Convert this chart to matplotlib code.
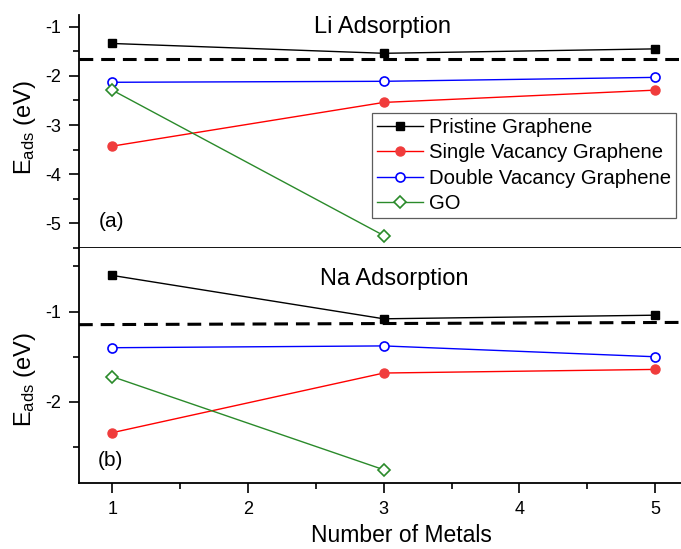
import matplotlib
matplotlib.use("Agg")
import matplotlib.pyplot as plt
from matplotlib.ticker import MultipleLocator

plt.rcParams['font.family'] = ['Liberation Sans', 'DejaVu Sans']
plt.rcParams['mathtext.fontset'] = 'custom'
plt.rcParams['mathtext.rm'] = 'Liberation Sans'
plt.rcParams['mathtext.it'] = 'Liberation Sans'

metals = [1, 3, 5]
labels = ["Pristine Graphene", "Single Vacancy Graphene",
          "Double Vacancy Graphene", "GO"]

# Li adsorption (a)
li_pristine = [-1.34, -1.54, -1.45]
li_single = [-3.43, -2.54, -2.29]
li_double = [-2.13, -2.11, -2.03]
li_go = [-2.29, -5.25]
li_ref = [-1.655, -1.655]

# Na adsorption (b)
na_pristine = [-0.60, -1.08, -1.04]
na_single = [-2.34, -1.68, -1.64]
na_double = [-1.40, -1.38, -1.50]
na_go = [-1.72, -2.75]
na_ref = [-1.145, -1.12]

xlim = (0.755, 5.19)

fig = plt.figure(figsize=(6.81, 5.49), dpi=100)
ax1 = fig.add_axes([0.116, 0.5477, 0.884, 0.425])
ax2 = fig.add_axes([0.116, 0.1197, 0.884, 0.428])

styles = [dict(color='black', marker='s', mfc='black', mec='black', ms=6),
          dict(color='red', marker='o', mfc='#f03c3c', mec='#f03c3c', ms=6.5),
          dict(color='blue', marker='o', mfc='white', mec='blue', ms=6.5, mew=1.2),
          dict(color='#2a8a2a', marker='D', mfc='white', mec='#2a8a2a', ms=6.5, mew=1.2)]


def panel(ax, series, ref, title, tpos, tag, tagpos, ylim, ylab_y):
    for ys, lab, st in zip(series, labels, styles):
        ax.plot(metals[:len(ys)], ys, lw=1.0, label=lab, **st)
    ax.plot(xlim, ref, color='black', lw=2.2, dashes=(4.5, 2.6))
    ax.set_xlim(*xlim)
    ax.set_ylim(*ylim)
    ax.spines['top'].set_visible(False)
    ax.spines['right'].set_visible(False)
    for s in ('left', 'bottom'):
        ax.spines[s].set_linewidth(1.3)
    ax.xaxis.set_major_locator(MultipleLocator(1))
    ax.xaxis.set_minor_locator(MultipleLocator(0.5))
    ax.yaxis.set_minor_locator(MultipleLocator(0.5))
    ax.tick_params(which='major', length=7, width=1.2, labelsize=13)
    ax.tick_params(which='minor', length=4, width=1.2)
    ax.tick_params(axis='y', pad=6)
    ax.tick_params(axis='x', pad=5.5)
    ax.set_ylabel(r'E$_{\mathrm{ads}}$ (eV)', fontsize=17)
    ax.yaxis.set_label_coords(-0.068, ylab_y)
    ax.text(tpos[0], tpos[1], title, fontsize=17, ha='center', va='center',
            transform=ax.transAxes)
    ax.text(tagpos[0], tagpos[1], tag, fontsize=15,
            ha='center', va='center', transform=ax.transAxes)


panel(ax1, [li_pristine, li_single, li_double, li_go], li_ref,
      'Li Adsorption', (0.504, 0.949), '(a)', (0.054, 0.114),
      (-5.51, -0.76), 0.518)
panel(ax2, [na_pristine, na_single, na_double, na_go], na_ref,
      'Na Adsorption', (0.523, 0.868), '(b)', (0.053, 0.095),
      (-2.90, -0.30), 0.44)

ax1.set_yticks([-1, -2, -3, -4, -5])
ax1.set_yticklabels(['-1', '-2', '-3', '-4', '-5'])
ax1.tick_params(axis='x', labelbottom=False)
ax2.set_yticks([-1, -2])
ax2.set_yticklabels(['-1', '-2'])
ax2.set_xlabel('Number of Metals', fontsize=16.5)
ax2.xaxis.set_label_coords(0.536, -0.175)

leg = ax1.legend(loc='upper left', bbox_to_anchor=(0.486, 0.581), fontsize=14.6,
                 frameon=True, fancybox=False, edgecolor='#333333',
                 handlelength=2.3, handletextpad=0.3, labelspacing=0.32,
                 borderpad=0.25, borderaxespad=0)
leg.get_frame().set_linewidth(0.9)

fig.savefig('out.png', dpi=100)
